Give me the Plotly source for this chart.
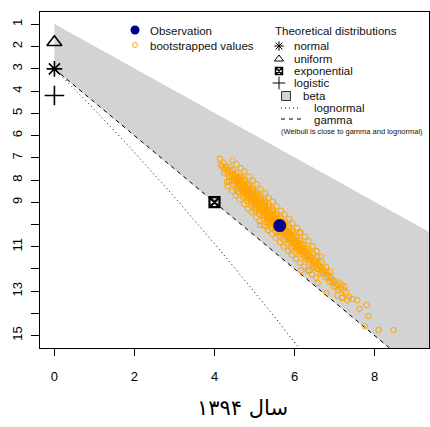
import plotly.graph_objects as go
import numpy as np

# ---------------- data ----------------
obs_skew2 = [5.63]
obs_kurt = [10.05]

theo_names = ["normal", "uniform", "exponential", "logistic"]
theo_skew2 = [0.0, 0.0, 4.0, 0.0]
theo_kurt = [3.0, 1.8, 9.0, 4.2]

x_ticks = [0, 2, 4, 6, 8]
y_ticks = list(range(1, 16))
y_ticktext = ["1", "2", "3", "4", "5", "6", "7", "8", "9", "", "11", "", "13", "", "15"]

boot_pairs = [
    (4.13, 7.05), (4.16, 7.32), (4.19, 7.41),
    (4.22, 7.22), (4.25, 7.55), (4.28, 7.38), (4.24, 7.70),
    (4.31, 7.47), (4.33, 7.71), (4.35, 7.58), (4.37, 7.86), (4.38, 7.42), (4.36, 8.05), (4.31, 8.09), (4.33, 8.27),
    (4.41, 7.62), (4.42, 7.85), (4.44, 7.74), (4.45, 8.02), (4.46, 7.55), (4.48, 7.93), (4.47, 8.18), (4.49, 7.80),
    (4.51, 7.78), (4.52, 8.05), (4.53, 7.95), (4.54, 8.22), (4.55, 7.70), (4.56, 8.10), (4.57, 7.88), (4.58, 8.31), (4.59, 8.00), (4.55, 8.42), (4.58, 8.54),
    (4.60, 7.95), (4.61, 8.18), (4.62, 8.08), (4.63, 8.35), (4.64, 7.90), (4.65, 8.24), (4.66, 8.12), (4.67, 8.45), (4.68, 8.02), (4.69, 8.30), (4.62, 8.55), (4.67, 7.85),
    (4.70, 8.15), (4.71, 8.38), (4.72, 8.27), (4.73, 8.52), (4.74, 8.05), (4.75, 8.40), (4.76, 8.30), (4.77, 8.65), (4.78, 8.20), (4.79, 8.48), (4.72, 8.78), (4.76, 7.98), (4.78, 8.36), (4.71, 8.60),
    (4.80, 8.35), (4.81, 8.58), (4.82, 8.46), (4.83, 8.72), (4.84, 8.25), (4.85, 8.60), (4.86, 8.50), (4.87, 8.85), (4.88, 8.40), (4.89, 8.68), (4.82, 8.95), (4.86, 8.18), (4.88, 8.55), (4.81, 8.80), (4.84, 8.62),
    (4.90, 8.55), (4.91, 8.77), (4.92, 8.65), (4.93, 8.92), (4.94, 8.44), (4.95, 8.80), (4.96, 8.70), (4.97, 9.05), (4.98, 8.60), (4.99, 8.88), (4.92, 9.15), (4.96, 8.36), (4.98, 8.75), (4.91, 9.00), (4.94, 8.82), (4.97, 8.52),
    (5.00, 8.74), (5.01, 8.96), (5.02, 8.85), (5.03, 9.12), (5.04, 8.63), (5.05, 9.00), (5.06, 8.90), (5.07, 9.25), (5.08, 8.80), (5.09, 9.08), (5.02, 9.35), (5.06, 8.55), (5.08, 8.95), (5.01, 9.20), (5.04, 9.02), (5.07, 8.70),
    (5.10, 8.93), (5.11, 9.15), (5.12, 9.04), (5.13, 9.31), (5.14, 8.82), (5.15, 9.19), (5.16, 9.09), (5.17, 9.44), (5.18, 8.99), (5.19, 9.27), (5.12, 9.54), (5.16, 8.74), (5.18, 9.14), (5.11, 9.39), (5.14, 9.21), (5.17, 8.89),
    (5.20, 9.12), (5.21, 9.34), (5.22, 9.23), (5.23, 9.50), (5.24, 9.01), (5.25, 9.38), (5.26, 9.28), (5.27, 9.63), (5.28, 9.18), (5.29, 9.46), (5.22, 9.73), (5.26, 8.93), (5.28, 9.33), (5.21, 9.58), (5.24, 9.40), (5.27, 9.08),
    (5.30, 9.31), (5.31, 9.53), (5.32, 9.42), (5.33, 9.69), (5.34, 9.20), (5.35, 9.57), (5.36, 9.47), (5.37, 9.82), (5.38, 9.37), (5.39, 9.65), (5.32, 9.92), (5.36, 9.12), (5.38, 9.52), (5.31, 9.77), (5.34, 9.59), (5.14, 10.02), (5.30, 10.11),
    (5.40, 9.50), (5.41, 9.72), (5.42, 9.61), (5.43, 9.88), (5.44, 9.39), (5.45, 9.76), (5.46, 9.66), (5.47, 10.01), (5.48, 9.56), (5.49, 9.84), (5.42, 10.11), (5.46, 9.31), (5.48, 9.71), (5.41, 9.96), (5.44, 9.78),
    (5.50, 9.69), (5.51, 9.91), (5.52, 9.80), (5.53, 10.07), (5.54, 9.58), (5.55, 9.95), (5.56, 9.85), (5.57, 10.20), (5.58, 9.75), (5.59, 10.03), (5.52, 10.30), (5.56, 9.50), (5.58, 9.90), (5.51, 10.15),
    (5.60, 9.88), (5.61, 10.10), (5.62, 9.99), (5.63, 10.26), (5.64, 9.77), (5.65, 10.14), (5.66, 10.04), (5.67, 10.39), (5.68, 9.94), (5.69, 10.22), (5.62, 10.49), (5.66, 9.69), (5.68, 10.09), (5.61, 10.34),
    (5.70, 10.07), (5.71, 10.29), (5.72, 10.18), (5.73, 10.45), (5.74, 9.96), (5.75, 10.33), (5.76, 10.23), (5.77, 10.58), (5.78, 10.13), (5.79, 10.41), (5.72, 10.68), (5.76, 9.88), (5.78, 10.28),
    (5.80, 10.26), (5.81, 10.48), (5.82, 10.37), (5.83, 10.64), (5.84, 10.15), (5.85, 10.52), (5.86, 10.42), (5.87, 10.77), (5.88, 10.32), (5.89, 10.60), (5.82, 10.87), (5.86, 10.07), (5.88, 10.47),
    (5.90, 10.45), (5.91, 10.67), (5.92, 10.56), (5.93, 10.83), (5.94, 10.34), (5.95, 10.71), (5.96, 10.61), (5.97, 10.96), (5.98, 10.51), (5.99, 10.79), (5.92, 11.06), (5.96, 10.26),
    (6.00, 10.64), (6.01, 10.86), (6.02, 10.75), (6.03, 11.02), (6.04, 10.53), (6.05, 10.90), (6.06, 10.80), (6.07, 11.15), (6.08, 10.70), (6.09, 10.98), (6.02, 11.25),
    (6.10, 10.83), (6.11, 11.05), (6.12, 10.94), (6.13, 11.21), (6.14, 10.72), (6.15, 11.09), (6.16, 10.99), (6.17, 11.34), (6.18, 10.89), (6.19, 11.17), (6.13, 10.38),
    (6.20, 11.02), (6.21, 11.24), (6.22, 11.13), (6.23, 11.40), (6.24, 10.91), (6.25, 11.28), (6.26, 11.18), (6.27, 11.53), (6.28, 11.08),
    (6.30, 11.21), (6.31, 11.43), (6.32, 11.32), (6.33, 11.59), (6.34, 11.10), (6.35, 11.47), (6.37, 11.72), (6.38, 11.27),
    (6.40, 11.40), (6.42, 11.62), (6.43, 11.51), (6.45, 11.80), (6.46, 11.29), (6.48, 11.66), (6.49, 11.93),
    (6.50, 11.59), (6.52, 11.83), (6.54, 11.70), (6.56, 12.00), (6.57, 11.48), (6.59, 11.85),
    (6.60, 11.78), (6.62, 12.02), (6.64, 11.90), (6.66, 12.19), (6.68, 11.70), (6.69, 12.08),
    (6.70, 11.97), (6.72, 12.22), (6.74, 12.10), (6.77, 12.38), (6.79, 11.92),
    (6.80, 12.16), (6.83, 12.40), (6.85, 12.30), (6.87, 12.58), (6.89, 12.12),
    (6.91, 12.37), (6.93, 12.60), (6.96, 12.50), (6.98, 12.78),
    (7.01, 12.55), (7.04, 12.80), (7.06, 12.68), (7.09, 12.95),
    (7.12, 12.62), (7.15, 12.86), (7.18, 12.72), (7.22, 12.95), (7.25, 12.80), (7.28, 13.05),
    (6.17, 12.06), (6.38, 12.06), (6.58, 12.64), (6.80, 13.09), (7.07, 13.18), (7.20, 13.27),
    (7.37, 13.27), (7.18, 13.31), (7.32, 13.40), (7.45, 13.35), (7.57, 13.41), (7.62, 13.80),
    (7.80, 13.63), (7.85, 14.13), (7.75, 14.58), (8.10, 14.75), (8.47, 14.75),
    # outer edge of the cloud
    (4.45, 7.12), (4.43, 8.50), (4.55, 7.30), (4.53, 8.70), (4.66, 7.47), (4.63, 8.88),
    (4.75, 7.62), (4.74, 9.08), (4.86, 7.85), (4.84, 9.30), (4.95, 8.02), (4.93, 9.45),
    (5.06, 8.20), (5.04, 9.68), (5.15, 8.42), (5.13, 9.85), (5.26, 8.60), (5.24, 10.05),
    (5.35, 8.80), (5.33, 10.25), (5.46, 8.98), (5.44, 10.42), (5.55, 9.18), (5.53, 10.60),
    (5.66, 9.38), (5.64, 10.80), (5.75, 9.55), (5.73, 11.00), (5.86, 9.75), (5.84, 11.18),
    (5.95, 9.95), (5.93, 11.38), (6.06, 10.15), (6.04, 11.55), (6.15, 10.35), (6.14, 11.72),
    (6.26, 10.55), (6.24, 11.90), (6.35, 10.75), (6.34, 12.08), (6.46, 10.98), (6.44, 12.25),
    (6.56, 11.20), (6.54, 12.40), (6.66, 11.45),
]
boot_skew2 = [p[0] for p in boot_pairs]
boot_kurt = [p[1] for p in boot_pairs]

# ------------- theoretical curves (as in fitdistrplus::descdist) -------------
xmax_line = 10.0
beta_x = [0.0, xmax_line, xmax_line, 0.0]
beta_y = [1.0, xmax_line + 1.0, 1.5 * xmax_line + 3.0, 3.0]   # between kurt=s2+1 and gamma line
gamma_x = [0.0, xmax_line]
gamma_y = [3.0, 3.0 + 1.5 * xmax_line]
w = np.linspace(1.0, 1.6, 200)
lnorm_x = (w + 2) ** 2 * (w - 1)
lnorm_y = w ** 4 + 2 * w ** 3 + 3 * w ** 2 - 3

FONT = "Liberation Sans, Arial, sans-serif"
BLACK = "#000000"

fig = go.Figure()
fig.add_trace(go.Scatter(x=beta_x, y=beta_y, fill="toself", mode="lines",
                         fillcolor="#D3D3D3", line=dict(color="#D3D3D3", width=1),
                         hoverinfo="skip", showlegend=False))
fig.add_trace(go.Scatter(x=lnorm_x, y=lnorm_y, mode="lines",
                         line=dict(color=BLACK, width=1, dash="1px,3px"), showlegend=False))
fig.add_trace(go.Scatter(x=gamma_x, y=gamma_y, mode="lines",
                         line=dict(color=BLACK, width=1, dash="4px,4px"), showlegend=False))
fig.add_trace(go.Scatter(x=boot_skew2, y=boot_kurt, mode="markers",
                         marker=dict(symbol="circle-open", size=5.5, color="#FFA500",
                                     line=dict(width=1, color="#FFA500")),
                         showlegend=False))
fig.add_trace(go.Scatter(x=obs_skew2, y=obs_kurt, mode="markers",
                         marker=dict(symbol="circle", size=13, color="#00008B"), showlegend=False))
theo_symbols = ["asterisk-open", "triangle-up-open", "square-x-open", "cross-thin-open"]
theo_sizes = [13, 13, 10, 14]
theo_lw = [1.6, 1.6, 2.2, 1.6]
for sx, ky, sym, sz, lw in zip(theo_skew2, theo_kurt, theo_symbols, theo_sizes, theo_lw):
    fig.add_trace(go.Scatter(x=[sx], y=[ky], mode="markers", cliponaxis=False,
                             marker=dict(symbol=sym, size=sz, color=BLACK,
                                         line=dict(width=lw, color=BLACK)),
                             showlegend=False))

# ---------------- legend (drawn on an overlay pixel-like axis) ----------------
def leg_marker(x, y, symbol, size, color, lw=1.2, fill=None):
    fig.add_trace(go.Scatter(x=[x], y=[y], mode="markers", xaxis="x2", yaxis="y2",
                             marker=dict(symbol=symbol, size=size, color=fill or color,
                                         line=dict(width=lw, color=color)),
                             showlegend=False, hoverinfo="skip"))

leg_marker(135, 30, "circle", 9, "#00008B", lw=0)
leg_marker(135, 45, "circle-open", 5, "#FFA500", lw=1)
leg_marker(279, 46, "asterisk-open", 8, BLACK, lw=1)
leg_marker(279, 59, "triangle-up-open", 8, BLACK, lw=1)
leg_marker(279, 71, "square-x-open", 7, BLACK, lw=1.5)
leg_marker(279, 83, "cross-thin-open", 9, BLACK, lw=1)
leg_marker(286, 96, "square", 9, "#333333", lw=1, fill="#D3D3D3")
fig.add_trace(go.Scatter(x=[281, 301], y=[108, 108], mode="lines", xaxis="x2", yaxis="y2",
                         line=dict(color=BLACK, width=1, dash="1px,3px"), showlegend=False))
fig.add_trace(go.Scatter(x=[281, 301], y=[119, 119], mode="lines", xaxis="x2", yaxis="y2",
                         line=dict(color=BLACK, width=1, dash="4px,4px"), showlegend=False))

leg_texts = [
    (148, 31, "Observation", 11.5),
    (148, 46, "bootstrapped values", 11.5),
    (273, 31, "Theoretical distributions", 11.5),
    (292, 46, "normal", 11.5),
    (292, 59, "uniform", 11.5),
    (292, 71, "exponential", 11.5),
    (292, 83, "logistic", 11.5),
    (301, 96, "beta", 11.5),
    (312, 108, "lognormal", 11.5),
    (312, 120, "gamma", 11.5),
    (279, 131, "(Weibull is close to gamma and lognormal)", 7.5),
]
annotations = []
for x, y, t, fs in leg_texts:
    annotations.append(dict(x=x, y=y, xref="x2", yref="y2", text=t, showarrow=False,
                            xanchor="left", yanchor="middle",
                            font=dict(family=FONT, size=fs, color="#111111")))
annotations.append(dict(x=(242 - 40) / 389, y=(348 - 408) / 336, xref="paper", yref="paper",
                        text="سال ۱۳۹۴", showarrow=False, xanchor="center", yanchor="middle",
                        font=dict(family="DejaVu Sans, sans-serif", size=21, color=BLACK)))

fig.update_layout(
    width=430, height=427,
    margin=dict(l=40, r=1, t=12, b=79, autoexpand=False),
    paper_bgcolor="white", plot_bgcolor="white",
    showlegend=False,
    annotations=annotations,
    xaxis=dict(range=[-0.36, 9.36], tickvals=x_ticks, ticks="outside", ticklen=7,
               tickcolor=BLACK, showline=True, linecolor=BLACK, linewidth=1, mirror=True,
               showgrid=False, zeroline=False, ticklabelstandoff=9, automargin=False,
               tickfont=dict(family=FONT, size=13, color=BLACK)),
    yaxis=dict(range=[15.56, 0.44], tickvals=y_ticks, ticktext=y_ticktext, ticks="outside",
               ticklen=8, tickcolor=BLACK, showline=True, linecolor=BLACK, linewidth=1,
               mirror=True, showgrid=False, zeroline=False, tickangle=-90, automargin=False,
               ticklabelstandoff=4, tickfont=dict(family=FONT, size=13, color=BLACK)),
    xaxis2=dict(range=[40, 429], overlaying="x", visible=False, fixedrange=True),
    yaxis2=dict(range=[348, 12], overlaying="y", visible=False, fixedrange=True),
)

fig.write_html("out.html", config={"displayModeBar": False},
               post_script="document.body.style.margin='0';document.body.style.padding='0';")
